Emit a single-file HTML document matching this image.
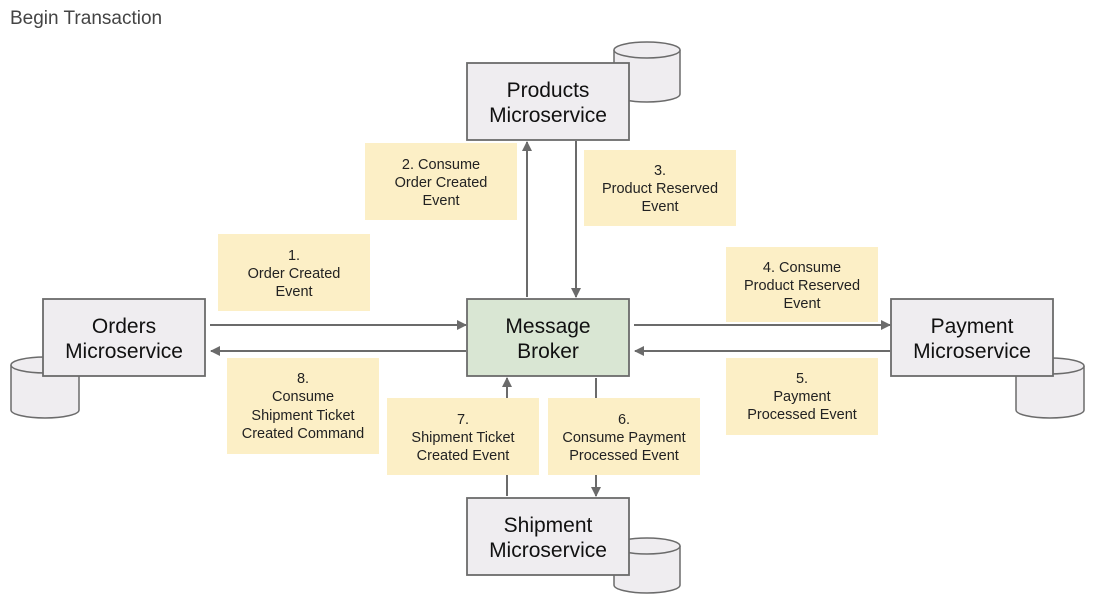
<!DOCTYPE html>
<html><head><meta charset="utf-8"><style>
html,body{margin:0;padding:0;background:#fff;}
svg{display:block;font-family:"Liberation Sans",Arial,sans-serif;}
.box{fill:#efedf0;stroke:#6b6b6b;stroke-width:1.8;}
.cyl{fill:#efedf0;stroke:#6b6b6b;stroke-width:1.5;}
.ln{stroke:#6b6b6b;stroke-width:2;fill:none;}
.lab{fill:#fcefc6;}
.bt{font-size:21px;fill:#111;text-anchor:middle;}
.lt{font-size:14.5px;fill:#222;text-anchor:middle;}
</style></head><body>
<svg width="1093" height="602" viewBox="0 0 1093 602">
<defs><marker id="ah" markerWidth="10" markerHeight="10" refX="9" refY="5" orient="auto" markerUnits="userSpaceOnUse"><path d="M0,0 L10,5 L0,10 z" fill="#6b6b6b"/></marker></defs>
<text x="10" y="24" font-size="19" fill="#444">Begin Transaction</text>

<g class="cyl">
<path d="M614,50 L614,94 A33,8 0 0 0 680,94 L680,50"/><ellipse cx="647" cy="50" rx="33" ry="8"/>
<path d="M11,365 L11,410 A34,8 0 0 0 79,410 L79,365"/><ellipse cx="45" cy="365" rx="34" ry="8"/>
<path d="M1016,366 L1016,410 A34,8 0 0 0 1084,410 L1084,366"/><ellipse cx="1050" cy="366" rx="34" ry="8"/>
<path d="M614,546 L614,585 A33,8 0 0 0 680,585 L680,546"/><ellipse cx="647" cy="546" rx="33" ry="8"/>
</g>

<g class="ln">
<line x1="210" y1="325" x2="466" y2="325" marker-end="url(#ah)"/>
<line x1="466" y1="351" x2="211" y2="351" marker-end="url(#ah)"/>
<line x1="634" y1="325" x2="890" y2="325" marker-end="url(#ah)"/>
<line x1="890" y1="351" x2="635" y2="351" marker-end="url(#ah)"/>
<line x1="527" y1="297" x2="527" y2="142" marker-end="url(#ah)"/>
<line x1="576" y1="141" x2="576" y2="297" marker-end="url(#ah)"/>
<line x1="507" y1="496" x2="507" y2="378" marker-end="url(#ah)"/>
<line x1="596" y1="378" x2="596" y2="496" marker-end="url(#ah)"/>
</g>

<rect class="box" x="467" y="63" width="162" height="77"/>
<text class="bt" x="548" y="97">Products</text><text class="bt" x="548" y="122">Microservice</text>
<rect class="box" x="43" y="299" width="162" height="77"/>
<text class="bt" x="124" y="333">Orders</text><text class="bt" x="124" y="358">Microservice</text>
<rect class="box" x="467" y="299" width="162" height="77" style="fill:#d9e6d3"/>
<text class="bt" x="548" y="333">Message</text><text class="bt" x="548" y="358">Broker</text>
<rect class="box" x="891" y="299" width="162" height="77"/>
<text class="bt" x="972" y="333">Payment</text><text class="bt" x="972" y="358">Microservice</text>
<rect class="box" x="467" y="498" width="162" height="77"/>
<text class="bt" x="548" y="532">Shipment</text><text class="bt" x="548" y="557">Microservice</text>

<rect class="lab" x="365" y="143" width="152" height="77"/>
<text class="lt" x="441" y="169">2. Consume</text><text class="lt" x="441" y="187">Order Created</text><text class="lt" x="441" y="205">Event</text>
<rect class="lab" x="584" y="150" width="152" height="76"/>
<text class="lt" x="660" y="175">3.</text><text class="lt" x="660" y="193">Product Reserved</text><text class="lt" x="660" y="211">Event</text>
<rect class="lab" x="218" y="234" width="152" height="77"/>
<text class="lt" x="294" y="260">1.</text><text class="lt" x="294" y="278">Order Created</text><text class="lt" x="294" y="296">Event</text>
<rect class="lab" x="726" y="247" width="152" height="75"/>
<text class="lt" x="802" y="272">4. Consume</text><text class="lt" x="802" y="290">Product Reserved</text><text class="lt" x="802" y="308">Event</text>
<rect class="lab" x="726" y="358" width="152" height="77"/>
<text class="lt" x="802" y="383">5.</text><text class="lt" x="802" y="401">Payment</text><text class="lt" x="802" y="419">Processed Event</text>
<rect class="lab" x="227" y="358" width="152" height="96"/>
<text class="lt" x="303" y="383">8.</text><text class="lt" x="303" y="401">Consume</text><text class="lt" x="303" y="420">Shipment Ticket</text><text class="lt" x="303" y="438">Created Command</text>
<rect class="lab" x="387" y="398" width="152" height="77"/>
<text class="lt" x="463" y="424">7.</text><text class="lt" x="463" y="442">Shipment Ticket</text><text class="lt" x="463" y="460">Created Event</text>
<rect class="lab" x="548" y="398" width="152" height="77"/>
<text class="lt" x="624" y="424">6.</text><text class="lt" x="624" y="442">Consume Payment</text><text class="lt" x="624" y="460">Processed Event</text>
</svg>
</body></html>
